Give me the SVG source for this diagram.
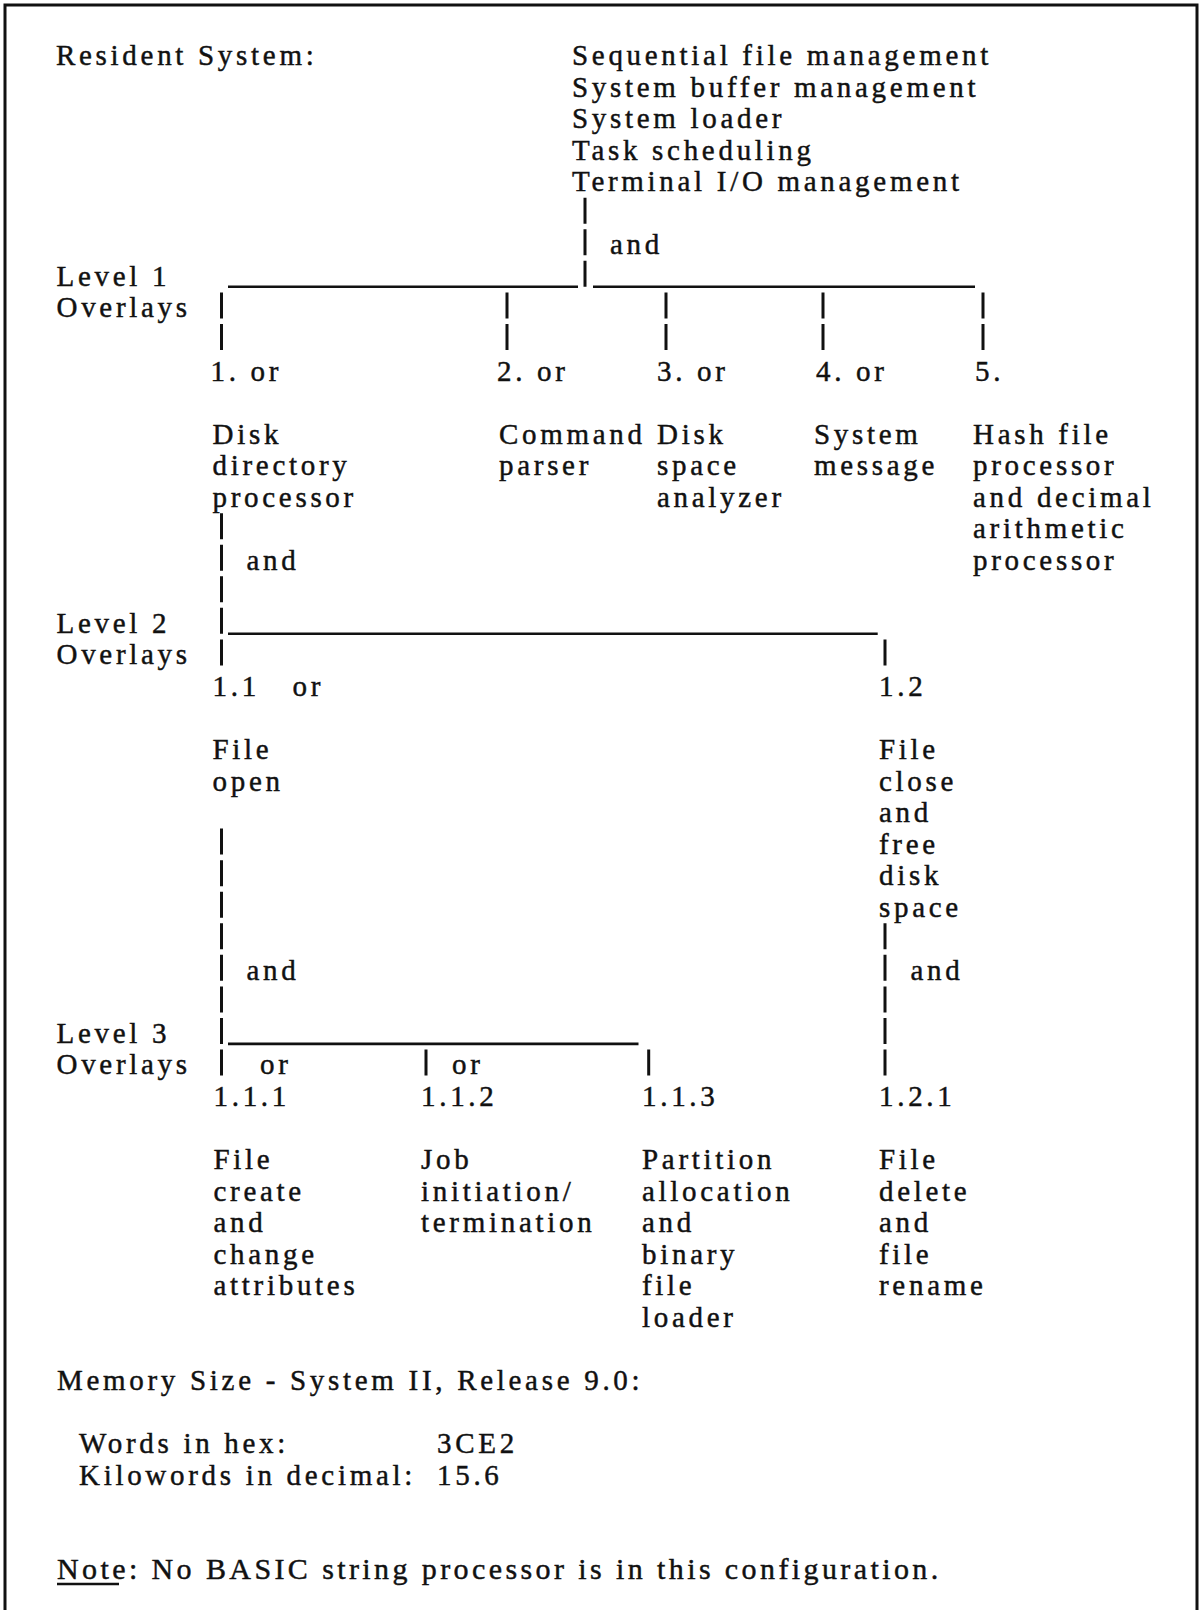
<svg xmlns="http://www.w3.org/2000/svg" width="1200" height="1610" viewBox="0 0 1200 1610">
<style>
text { font-family: "Liberation Serif", "Times New Roman", serif; font-size: 29px; letter-spacing: 3.7px; fill: #111; stroke: #111; stroke-width: 0.45px; }
.note { font-size: 30px; letter-spacing: 3.4px; }
.bar { stroke: #111; stroke-width: 3; fill: none; }
.hl { stroke: #111; stroke-width: 2.6; fill: none; }
.frame { stroke: #111; stroke-width: 3; fill: none; }
</style>
<rect width="1200" height="1610" fill="#fff"/>
<path class="frame" d="M5 1610V5H1197V1610"/>

<g id="connectors">
  <path class="bar" d="M585 197.7V223.7M585 229.3V255.3M585 260.8V286.8"/>
  <path class="hl" d="M228 286.8H578M593 286.8H975"/>
  <path class="bar" d="M221.5 292.4V318.4M221.5 323.9V349.9M507 292.4V318.4M507 323.9V349.9M666 292.4V318.4M666 323.9V349.9M823 292.4V318.4M823 323.9V349.9M983 292.4V318.4M983 323.9V349.9"/>
  <path class="bar" d="M221.5 513.2V539.2M221.5 544.7V570.7M221.5 576.3V602.3M221.5 607.8V633.8M221.5 639.4V665.4M885 639.4V665.4"/>
  <path class="hl" d="M228 633.8H877.7"/>
  <path class="bar" d="M221.5 828.6V854.6M221.5 860.2V886.2M221.5 891.7V917.7M221.5 923.3V949.3M221.5 954.8V980.8M221.5 986.4V1012.4M221.5 1017.9V1043.9M221.5 1049.4V1075.4M426 1049.4V1075.4M648.7 1049.4V1075.4"/>
  <path class="hl" d="M228 1043.9H638.5"/>
  <path class="bar" d="M885 923.3V949.3M885 954.8V980.8M885 986.4V1012.4M885 1017.9V1043.9M885 1049.4V1075.4"/>
  <text x="610" y="254.3">and</text>
  <text x="246.4" y="569.7">and</text>
  <text x="246.4" y="979.8">and</text>
  <text x="910.5" y="979.8">and</text>
  <text x="260" y="1074.4">or</text>
  <text x="452" y="1074.4">or</text>
</g>

<g id="resident">
  <text x="56" y="65">Resident System:</text>
  <text x="572" y="65">Sequential file management<tspan x="572" dy="31.545">System buffer management</tspan><tspan x="572" dy="31.545">System loader</tspan><tspan x="572" dy="31.545">Task scheduling</tspan><tspan x="572" dy="31.545">Terminal I/O management</tspan></text>
</g>

<g id="level-labels">
  <text x="56.5" y="285.8">Level 1<tspan x="56.5" dy="31.545">Overlays</tspan></text>
  <text x="56.5" y="632.8">Level 2<tspan x="56.5" dy="31.545">Overlays</tspan></text>
  <text x="56.5" y="1042.9">Level 3<tspan x="56.5" dy="31.545">Overlays</tspan></text>
</g>

<g id="ov1">
  <text x="210.5" y="380.5">1. or</text>
  <text x="212.5" y="443.5">Disk<tspan x="212.5" dy="31.545">directory</tspan><tspan x="212.5" dy="31.545">processor</tspan></text>
</g>
<g id="ov2">
  <text x="497" y="380.5">2. or</text>
  <text x="499" y="443.5">Command<tspan x="499" dy="31.545">parser</tspan></text>
</g>
<g id="ov3">
  <text x="657" y="380.5">3. or</text>
  <text x="657" y="443.5">Disk<tspan x="657" dy="31.545">space</tspan><tspan x="657" dy="31.545">analyzer</tspan></text>
</g>
<g id="ov4">
  <text x="816" y="380.5">4. or</text>
  <text x="814" y="443.5">System<tspan x="814" dy="31.545">message</tspan></text>
</g>
<g id="ov5">
  <text x="975" y="380.5">5.</text>
  <text x="973" y="443.5">Hash file<tspan x="973" dy="31.545">processor</tspan><tspan x="973" dy="31.545">and decimal</tspan><tspan x="973" dy="31.545">arithmetic</tspan><tspan x="973" dy="31.545">processor</tspan></text>
</g>

<g id="ov1-1">
  <text x="212.5" y="695.9">1.1<tspan x="292.5">or</tspan></text>
  <text x="212.5" y="759">File<tspan x="212.5" dy="31.545">open</tspan></text>
</g>
<g id="ov1-2">
  <text x="879" y="695.9">1.2</text>
  <text x="879" y="759">File<tspan x="879" dy="31.545">close</tspan><tspan x="879" dy="31.545">and</tspan><tspan x="879" dy="31.545">free</tspan><tspan x="879" dy="31.545">disk</tspan><tspan x="879" dy="31.545">space</tspan></text>
</g>

<g id="ov1-1-1">
  <text x="213.5" y="1106">1.1.1</text>
  <text x="213.5" y="1169.1">File<tspan x="213.5" dy="31.545">create</tspan><tspan x="213.5" dy="31.545">and</tspan><tspan x="213.5" dy="31.545">change</tspan><tspan x="213.5" dy="31.545">attributes</tspan></text>
</g>
<g id="ov1-1-2">
  <text x="421" y="1106">1.1.2</text>
  <text x="421" y="1169.1">Job<tspan x="421" dy="31.545">initiation/</tspan><tspan x="421" dy="31.545">termination</tspan></text>
</g>
<g id="ov1-1-3">
  <text x="642" y="1106">1.1.3</text>
  <text x="642" y="1169.1">Partition<tspan x="642" dy="31.545">allocation</tspan><tspan x="642" dy="31.545">and</tspan><tspan x="642" dy="31.545">binary</tspan><tspan x="642" dy="31.545">file</tspan><tspan x="642" dy="31.545">loader</tspan></text>
</g>
<g id="ov1-2-1">
  <text x="879" y="1106">1.2.1</text>
  <text x="879" y="1169.1">File<tspan x="879" dy="31.545">delete</tspan><tspan x="879" dy="31.545">and</tspan><tspan x="879" dy="31.545">file</tspan><tspan x="879" dy="31.545">rename</tspan></text>
</g>

<g id="memory">
  <text x="57" y="1389.9">Memory Size - System II, Release 9.0:</text>
  <text x="79" y="1453">Words in hex:</text>
  <text x="437" y="1453">3CE2</text>
  <text x="79" y="1484.5">Kilowords in decimal:</text>
  <text x="437" y="1484.5">15.6</text>
</g>

<g id="note">
  <text class="note" x="57" y="1579.2">Note: No BASIC string processor is in this configuration.</text>
  <path class="hl" d="M57 1584H119" stroke-width="2"/>
</g>
</svg>
